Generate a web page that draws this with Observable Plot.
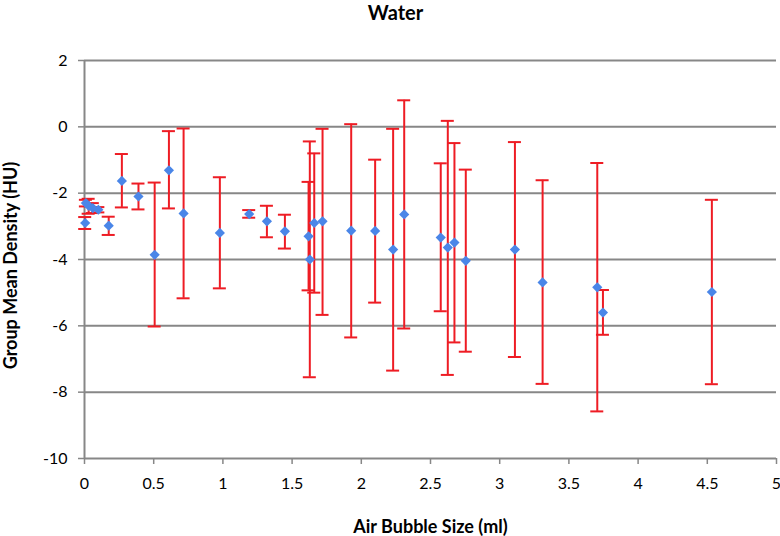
<!DOCTYPE html>
<html><head><meta charset="utf-8">
<script src="https://cdn.jsdelivr.net/npm/d3@7"></script>
<script src="https://cdn.jsdelivr.net/npm/@observablehq/plot@0.6"></script>
<style>body{margin:0;background:#fff}</style>
</head><body><div id="chart"></div>
<script>
const title = "Water";
const xLabel = "Air Bubble Size (ml)";
const yLabel = "Group Mean Density (HU)";
const bubble = [0.005, 0.01, 0.03, 0.06, 0.10, 0.175, 0.27, 0.39, 0.507, 0.61, 0.716, 0.978, 1.19, 1.318, 1.448, 1.619, 1.628, 1.66, 1.72, 1.927, 2.10, 2.23, 2.31, 2.574, 2.625, 2.673, 2.755, 3.11, 3.31, 3.705, 3.746, 4.533];
const mean   = [-2.90, -2.30, -2.38, -2.45, -2.50, -2.98, -1.63, -2.10, -3.86, -1.31, -2.61, -3.20, -2.63, -2.85, -3.15, -3.30, -4.00, -2.90, -2.85, -3.13, -3.14, -3.70, -2.64, -3.34, -3.64, -3.49, -4.04, -3.70, -4.69, -4.84, -5.60, -4.98];
const lower  = [-3.08, -2.40, -2.62, -2.60, -2.58, -3.26, -2.43, -2.49, -6.02, -2.46, -5.17, -4.87, -2.74, -3.33, -3.67, -4.93, -7.55, -5.00, -5.67, -6.35, -5.30, -7.35, -6.08, -5.56, -7.48, -6.50, -6.78, -6.94, -7.75, -8.58, -6.27, -7.76];
const upper  = [-2.72, -2.20, -2.17, -2.30, -2.42, -2.71, -0.82, -1.71, -1.68, -0.13, -0.05, -1.52, -2.51, -2.38, -2.65, -1.66, -0.44, -0.80, -0.06, 0.08, -0.99, -0.06, 0.80, -1.10, 0.18, -0.49, -1.29, -0.46, -1.61, -1.09, -4.92, -2.20];
const yTicks = [-10, -8, -6, -4, -2, 0, 2];
const xTicks = [0, 0.5, 1, 1.5, 2, 2.5, 3, 3.5, 4, 4.5, 5];

const data = bubble.map((x, i) => ({x, mean: mean[i], lo: lower[i], hi: upper[i]}));
const capHalf = 0.047;
const red = "#ee1c24";
const gray = "#878787";

const chart = Plot.plot({
  width: 780, height: 536,
  marginTop: 60, marginBottom: 78, marginLeft: 84, marginRight: 4,
  style: {fontFamily: "Lato, 'Open Sans', sans-serif", color: "#000", background: "#fff"},
  x: {domain: [0, 5]},
  y: {domain: [-10, 2]},
  marks: [
    Plot.ruleY(yTicks, {stroke: gray, strokeWidth: 2}),
    Plot.ruleX([0], {stroke: gray, strokeWidth: 2}),
    Plot.axisY({ticks: yTicks, tickSize: 6, tickPadding: 11, stroke: gray, strokeWidth: 1.5, fontSize: 16, label: null, tickFormat: d => String(d)}),
    Plot.axisX({ticks: xTicks, tickSize: 6, tickPadding: 13, stroke: gray, strokeWidth: 1.5, fontSize: 16, label: null, tickFormat: d => String(d)}),
    Plot.ruleX(data, {x: "x", y1: "lo", y2: "hi", stroke: red, strokeWidth: 2}),
    Plot.ruleY(data, {y: "lo", x1: d => d.x - capHalf, x2: d => d.x + capHalf, stroke: red, strokeWidth: 2}),
    Plot.ruleY(data, {y: "hi", x1: d => d.x - capHalf, x2: d => d.x + capHalf, stroke: red, strokeWidth: 2}),
    Plot.dot(data, {x: "x", y: "mean", symbol: "diamond2", r: 4.6, fill: "#4a86e8", stroke: null}),
    Plot.text([title], {frameAnchor: "top", textAnchor: "middle", lineAnchor: "middle", dx: -35, dy: -47, fontSize: 20, fontWeight: "bold"}),
    Plot.text([xLabel], {frameAnchor: "bottom", textAnchor: "middle", lineAnchor: "middle", dy: 69, fontSize: 18, fontWeight: "bold"}),
    Plot.text([yLabel], {frameAnchor: "left", textAnchor: "middle", lineAnchor: "middle", rotate: -90, dx: -73, dy: 6, fontSize: 18, fontWeight: "bold"})
  ]
});
document.getElementById("chart").appendChild(chart);
</script>
</body></html>
